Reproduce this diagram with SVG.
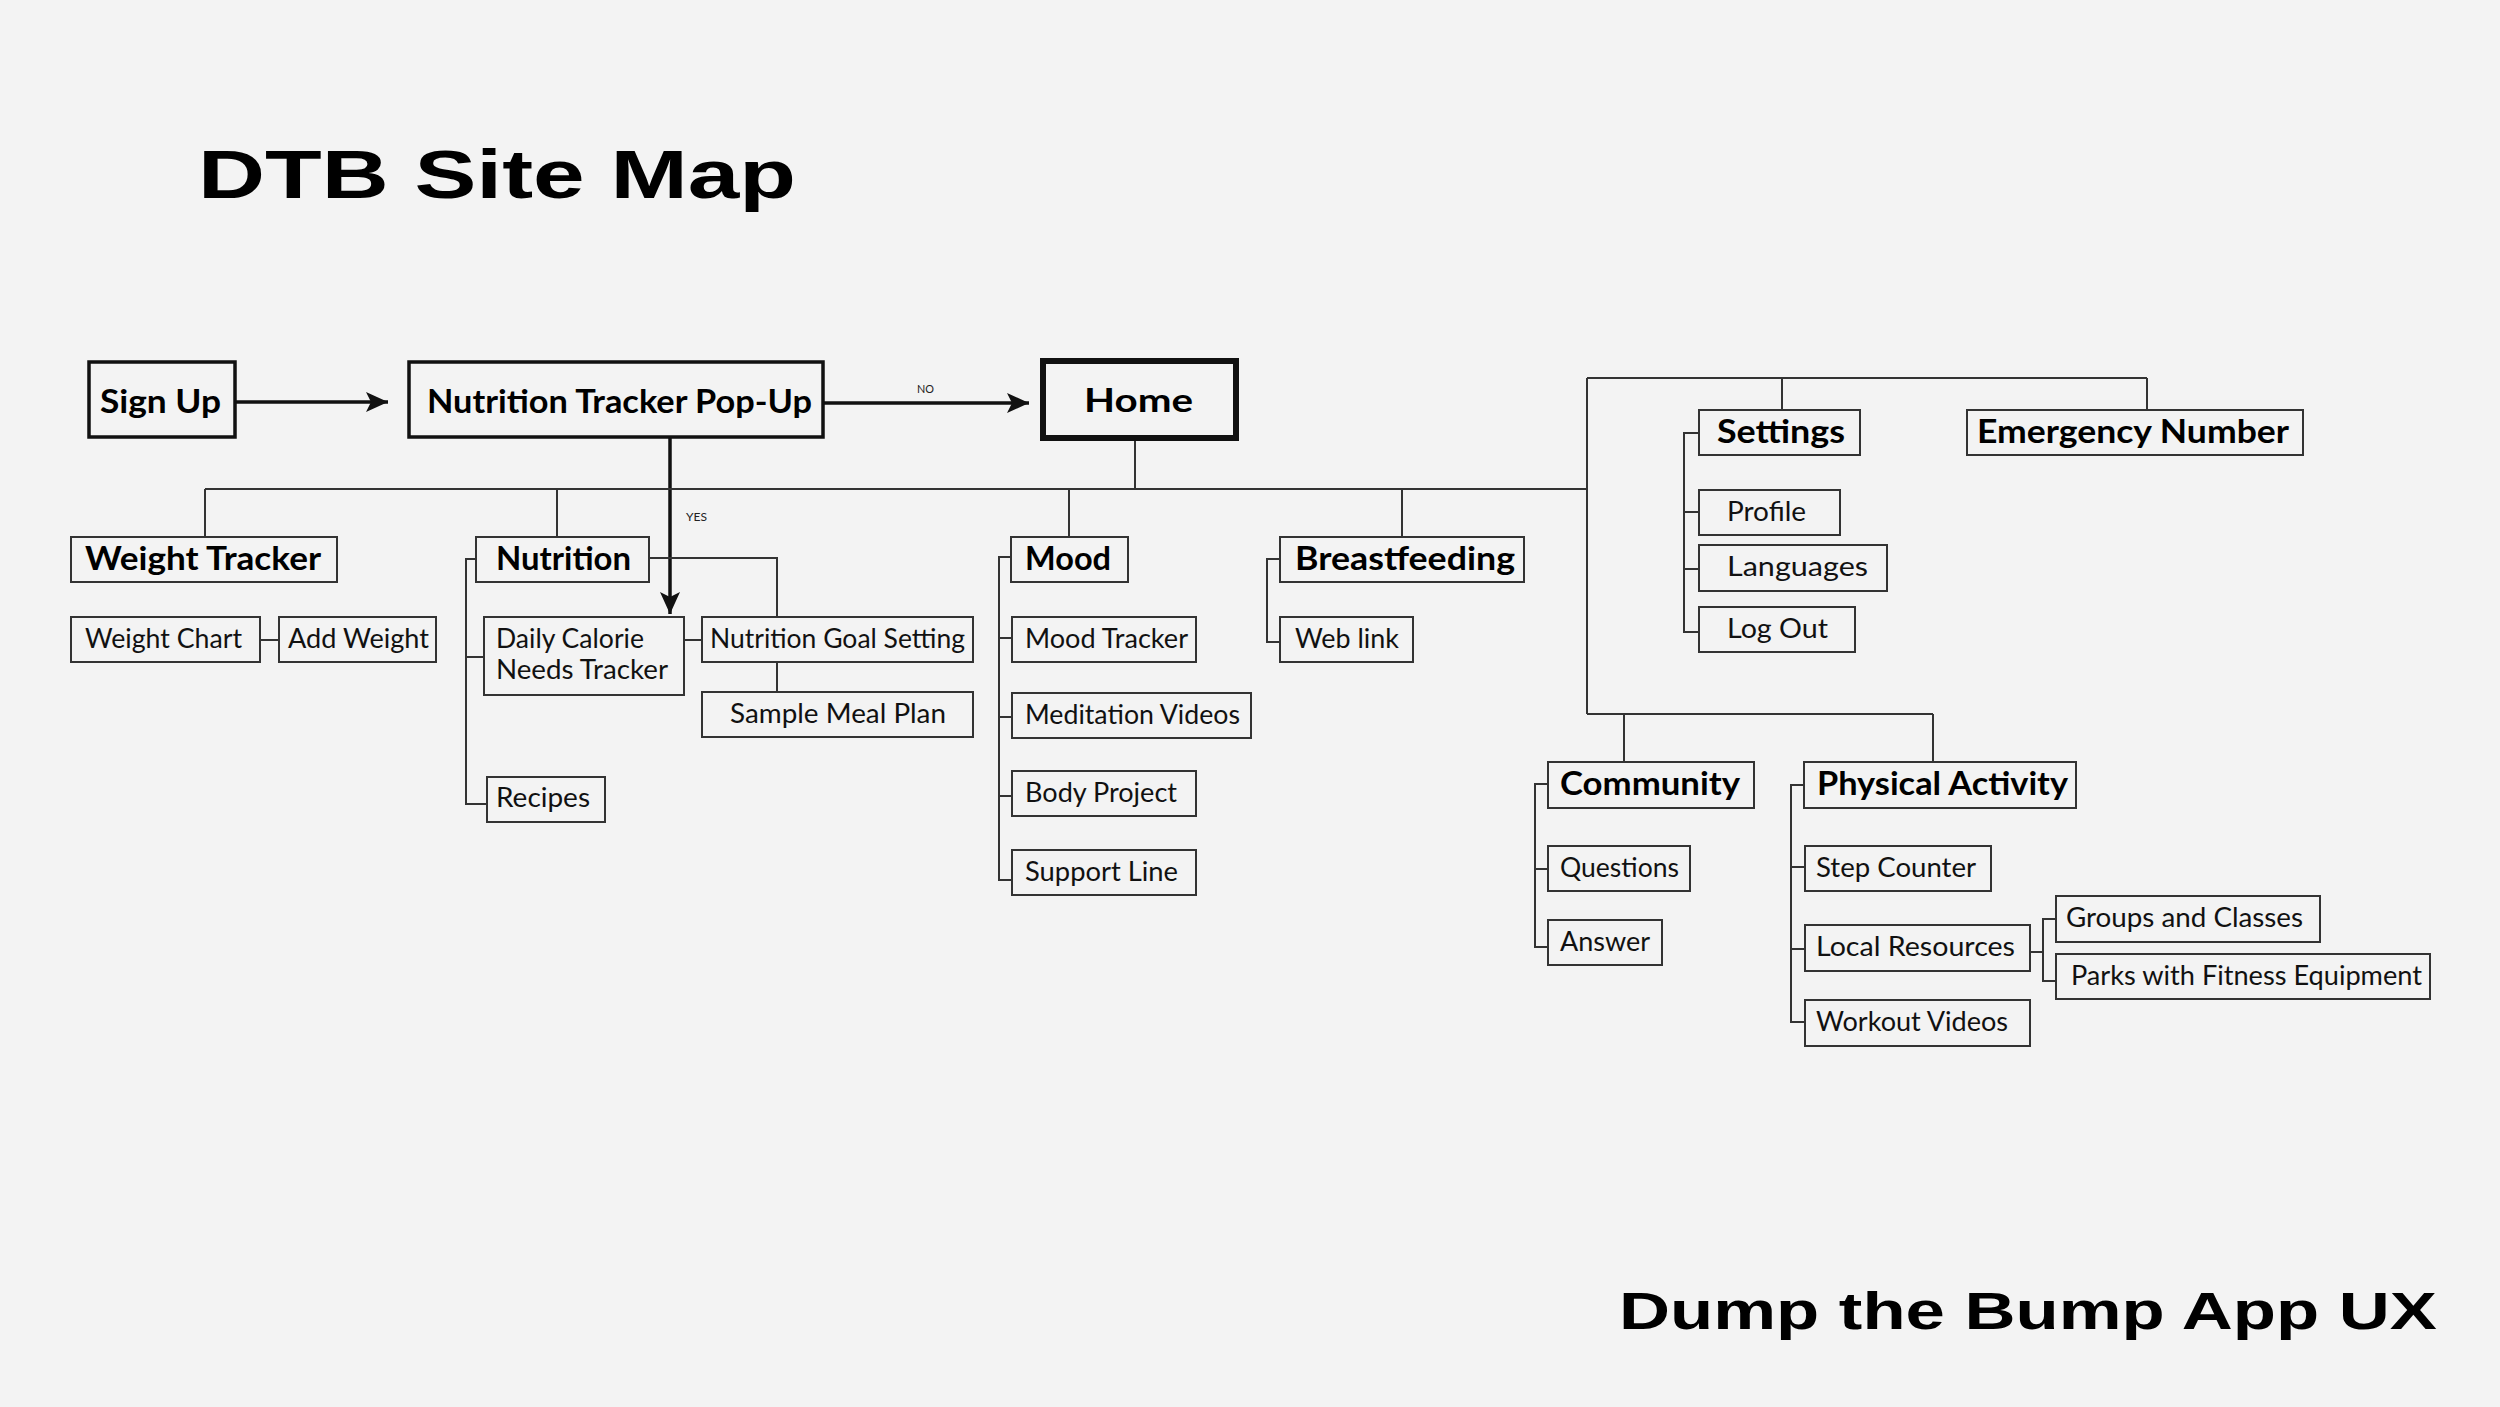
<svg xmlns="http://www.w3.org/2000/svg" width="2500" height="1407" viewBox="0 0 2500 1407">
<defs>
<style>
.bg{fill:#f3f3f3}
.box{fill:#f3f3f3;stroke:#333;stroke-width:2}
.bx3{fill:#f3f3f3;stroke:#111;stroke-width:3.5}
.bx5{fill:#f3f3f3;stroke:#111;stroke-width:6}
.ln{fill:none;stroke:#333;stroke-width:2}
.lt{fill:none;stroke:#111;stroke-width:3.5}
.t{font-family:Lato,"Liberation Sans",sans-serif;font-size:27px;fill:#111}
.h{font-family:Lato,"Liberation Sans",sans-serif;font-size:33px;font-weight:700;fill:#000}
.s{font-family:Lato,"Liberation Sans",sans-serif;font-size:12px;fill:#222}
.title{font-family:"Liberation Sans",Arial,sans-serif;font-weight:700;fill:#000}
</style>
<marker id="arr" markerUnits="userSpaceOnUse" markerWidth="24" markerHeight="22" refX="22" refY="11" orient="auto" viewBox="0 0 24 22">
<path d="M0,1 L22,11 L0,21 L5,11 Z" fill="#111"/>
</marker>
</defs>
<rect class="bg" x="0" y="0" width="2500" height="1407"/>
<text class="title" x="198" y="198" font-size="68" textLength="598" lengthAdjust="spacingAndGlyphs">DTB Site Map</text>
<text class="title" x="1619" y="1329" font-size="51" textLength="818" lengthAdjust="spacingAndGlyphs">Dump the Bump App UX</text>

<g id="connectors">
<line class="lt" x1="235" y1="402" x2="388" y2="402" marker-end="url(#arr)"/>
<line class="lt" x1="823" y1="403" x2="1029" y2="403" marker-end="url(#arr)"/>
<line class="lt" x1="670" y1="437" x2="670" y2="614" marker-end="url(#arr)"/>
<text class="s" x="917" y="393" textLength="17" lengthAdjust="spacingAndGlyphs">NO</text>
<text class="s" x="686" y="521" textLength="21" lengthAdjust="spacingAndGlyphs">YES</text>
<path class="ln" d="M1135,438 V489 M205,489 H1587 M205,489 V537 M557,489 V537 M1069,489 V537 M1402,489 V537"/>
<path class="ln" d="M1587,378 V714 M1587,378 H2147 M1782,378 V410 M2147,378 V410 M1587,714 H1933 M1624,714 V762 M1933,714 V762"/>
<path class="ln" d="M260,640 H279"/>
<path class="ln" d="M649,558 H777 V617 M777,662 V692 M684,640 H702"/>
<path class="ln" d="M476,559 H466 V804 H487 M466,657 H484"/>
<path class="ln" d="M1011,557 H999 V880 H1012 M999,638 H1012 M999,717 H1012 M999,796 H1012"/>
<path class="ln" d="M1280,559 H1267 V642 H1280"/>
<path class="ln" d="M1699,433 H1684 V632 H1699 M1684,512 H1699 M1684,569 H1699"/>
<path class="ln" d="M1548,784 H1535 V947 H1548 M1535,869 H1548"/>
<path class="ln" d="M1804,785 H1791 V1022 H1805 M1791,867 H1805 M1791,949 H1805"/>
<path class="ln" d="M2030,952 H2043 M2056,919 H2043 V981 H2056"/>
</g>

<g id="sign-up"><rect class="bx3" x="89" y="362" width="146" height="75"/><text class="h" x="100" y="413" textLength="121" lengthAdjust="spacingAndGlyphs">Sign Up</text></g>
<g id="nutrition-tracker-popup"><rect class="bx3" x="409" y="362" width="414" height="75"/><text class="h" x="427" y="413" textLength="385" lengthAdjust="spacingAndGlyphs">Nutrition Tracker Pop-Up</text></g>
<g id="home"><rect class="bx5" x="1043" y="361" width="193" height="77"/><text class="h" x="1084" y="412" font-size="39" textLength="109" lengthAdjust="spacingAndGlyphs">Home</text></g>

<g id="weight-tracker"><rect class="box" x="71" y="537" width="266" height="45"/><text class="h" x="85" y="570" textLength="236" lengthAdjust="spacingAndGlyphs">Weight Tracker</text></g>
<g id="nutrition"><rect class="box" x="476" y="537" width="173" height="45"/><text class="h" x="496" y="570" textLength="135" lengthAdjust="spacingAndGlyphs">Nutrition</text></g>
<g id="mood"><rect class="box" x="1011" y="537" width="117" height="45"/><text class="h" x="1025" y="570" textLength="86" lengthAdjust="spacingAndGlyphs">Mood</text></g>
<g id="breastfeeding"><rect class="box" x="1280" y="537" width="244" height="45"/><text class="h" x="1295" y="570" textLength="220" lengthAdjust="spacingAndGlyphs">Breastfeeding</text></g>
<g id="settings"><rect class="box" x="1699" y="410" width="161" height="45"/><text class="h" x="1717" y="443" textLength="128" lengthAdjust="spacingAndGlyphs">Settings</text></g>
<g id="emergency-number"><rect class="box" x="1967" y="410" width="336" height="45"/><text class="h" x="1977" y="443" textLength="312" lengthAdjust="spacingAndGlyphs">Emergency Number</text></g>
<g id="community"><rect class="box" x="1548" y="762" width="206" height="46"/><text class="h" x="1560" y="795" textLength="180" lengthAdjust="spacingAndGlyphs">Community</text></g>
<g id="physical-activity"><rect class="box" x="1804" y="762" width="272" height="46"/><text class="h" x="1817" y="795" textLength="251" lengthAdjust="spacingAndGlyphs">Physical Activity</text></g>

<g id="weight-chart"><rect class="box" x="71" y="617" width="189" height="45"/><text class="t" x="85" y="648" textLength="157" lengthAdjust="spacingAndGlyphs">Weight Chart</text></g>
<g id="add-weight"><rect class="box" x="279" y="617" width="157" height="45"/><text class="t" x="288" y="648" textLength="141" lengthAdjust="spacingAndGlyphs">Add Weight</text></g>
<g id="daily-calorie"><rect class="box" x="484" y="617" width="200" height="78"/><text class="t" x="496" y="648" textLength="148" lengthAdjust="spacingAndGlyphs">Daily Calorie</text><text class="t" x="496" y="679" textLength="172" lengthAdjust="spacingAndGlyphs">Needs Tracker</text></g>
<g id="nutrition-goal-setting"><rect class="box" x="702" y="617" width="271" height="45"/><text class="t" x="710" y="648" textLength="255" lengthAdjust="spacingAndGlyphs">Nutrition Goal Setting</text></g>
<g id="sample-meal-plan"><rect class="box" x="702" y="692" width="271" height="45"/><text class="t" x="730" y="723" textLength="216" lengthAdjust="spacingAndGlyphs">Sample Meal Plan</text></g>
<g id="recipes"><rect class="box" x="487" y="777" width="118" height="45"/><text class="t" x="496" y="807" textLength="94" lengthAdjust="spacingAndGlyphs">Recipes</text></g>
<g id="mood-tracker"><rect class="box" x="1012" y="617" width="184" height="45"/><text class="t" x="1025" y="648" textLength="163" lengthAdjust="spacingAndGlyphs">Mood Tracker</text></g>
<g id="meditation-videos"><rect class="box" x="1012" y="693" width="239" height="45"/><text class="t" x="1025" y="724" textLength="215" lengthAdjust="spacingAndGlyphs">Meditation Videos</text></g>
<g id="body-project"><rect class="box" x="1012" y="771" width="184" height="45"/><text class="t" x="1025" y="802" textLength="152" lengthAdjust="spacingAndGlyphs">Body Project</text></g>
<g id="support-line"><rect class="box" x="1012" y="850" width="184" height="45"/><text class="t" x="1025" y="881" textLength="153" lengthAdjust="spacingAndGlyphs">Support Line</text></g>
<g id="web-link"><rect class="box" x="1280" y="617" width="133" height="45"/><text class="t" x="1295" y="648" textLength="104" lengthAdjust="spacingAndGlyphs">Web link</text></g>
<g id="profile"><rect class="box" x="1699" y="490" width="141" height="45"/><text class="t" x="1727" y="521" textLength="79" lengthAdjust="spacingAndGlyphs">Profile</text></g>
<g id="languages"><rect class="box" x="1699" y="545" width="188" height="46"/><text class="t" x="1727" y="576" textLength="141" lengthAdjust="spacingAndGlyphs">Languages</text></g>
<g id="log-out"><rect class="box" x="1699" y="607" width="156" height="45"/><text class="t" x="1727" y="638" textLength="101" lengthAdjust="spacingAndGlyphs">Log Out</text></g>
<g id="questions"><rect class="box" x="1548" y="846" width="142" height="45"/><text class="t" x="1560" y="877" textLength="119" lengthAdjust="spacingAndGlyphs">Questions</text></g>
<g id="answer"><rect class="box" x="1548" y="920" width="114" height="45"/><text class="t" x="1560" y="951" textLength="90" lengthAdjust="spacingAndGlyphs">Answer</text></g>
<g id="step-counter"><rect class="box" x="1805" y="846" width="186" height="45"/><text class="t" x="1816" y="877" textLength="160" lengthAdjust="spacingAndGlyphs">Step Counter</text></g>
<g id="local-resources"><rect class="box" x="1805" y="925" width="225" height="46"/><text class="t" x="1816" y="956" textLength="199" lengthAdjust="spacingAndGlyphs">Local Resources</text></g>
<g id="workout-videos"><rect class="box" x="1805" y="1000" width="225" height="46"/><text class="t" x="1816" y="1031" textLength="192" lengthAdjust="spacingAndGlyphs">Workout Videos</text></g>
<g id="groups-and-classes"><rect class="box" x="2056" y="896" width="264" height="46"/><text class="t" x="2066" y="927" textLength="237" lengthAdjust="spacingAndGlyphs">Groups and Classes</text></g>
<g id="parks-with-fitness-equipment"><rect class="box" x="2056" y="954" width="374" height="45"/><text class="t" x="2071" y="985" textLength="351" lengthAdjust="spacingAndGlyphs">Parks with Fitness Equipment</text></g>
</svg>
